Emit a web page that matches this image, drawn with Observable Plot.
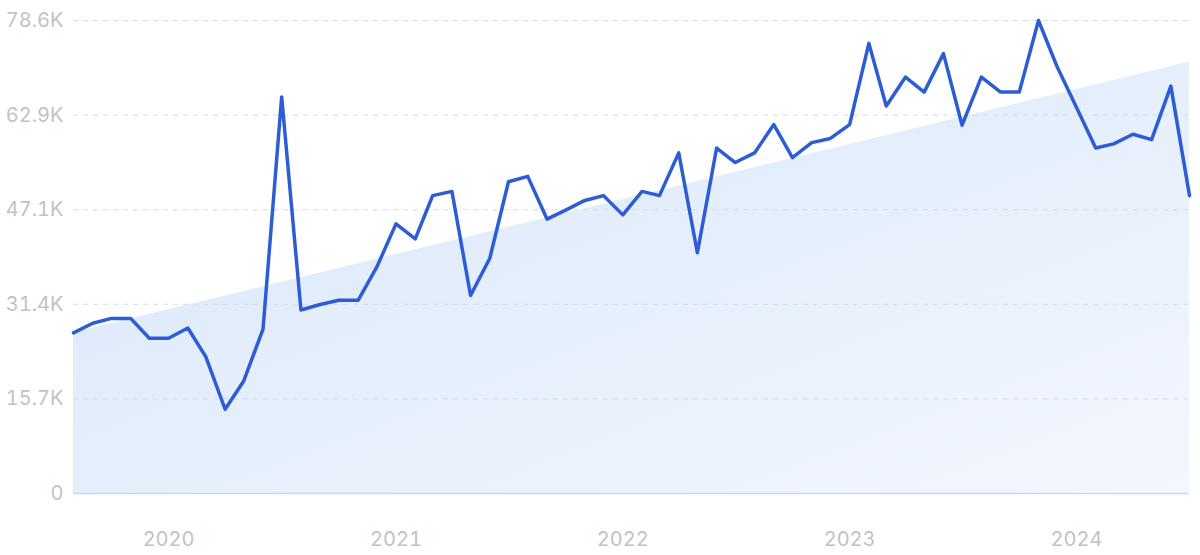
<!DOCTYPE html>
<html>
<head>
<meta charset="utf-8">
<script src="https://cdn.jsdelivr.net/npm/d3@7"></script>
<script src="https://cdn.jsdelivr.net/npm/@observablehq/plot@0.6"></script>
<style>
  html, body { margin: 0; padding: 0; background: #ffffff; }
  #chart { width: 1200px; height: 555px; }
</style>
</head>
<body>
<div id="chart"></div>
<script>
// Monthly series, Aug 2019 – Jul 2024 (values in thousands)
const startMonth = "2019-08-01";
const endMonth = "2024-07-01";
const values = [
  26.7, 28.3, 29.1, 29.1, 25.8, 25.8, 27.5, 22.7, 14.0, 18.7,
  27.3, 65.9, 30.5, 31.4, 32.1, 32.1, 37.6, 44.8, 42.3, 49.5,
  50.2, 32.9, 39.1, 51.8, 52.7, 45.6, 47.1, 48.7, 49.5, 46.3,
  50.2, 49.5, 56.6, 40.0, 57.4, 55.0, 56.6, 61.3, 55.8, 58.3,
  59.0, 61.3, 74.8, 64.4, 69.2, 66.7, 73.1, 61.2, 69.2, 66.7,
  66.7, 78.6, 70.9, 64.2, 57.4, 58.1, 59.7, 58.8, 67.7, 49.5
];
// Trend (start and end values, thousands)
const trendValues = [26.7, 71.7];
// Tick labels
const yTicks = [0, 15.72, 31.44, 47.16, 62.88, 78.6];
const yTickLabels = ["0", "15.7K", "31.4K", "47.1K", "62.9K", "78.6K"];
const xTickYears = [2020, 2021, 2022, 2023, 2024];

const months = d3.utcMonth.range(new Date(startMonth), d3.utcMonth.offset(new Date(endMonth), 1));
const series = months.map((d, i) => ({date: d, value: values[i]}));
const trend = [
  {date: months[0], value: trendValues[0]},
  {date: months[months.length - 1], value: trendValues[1]}
];
const xTicks = xTickYears.map(y => new Date(Date.UTC(y, 0, 1)));

const plot = Plot.plot({
  width: 1200,
  height: 555,
  marginLeft: 73,
  marginRight: 11,
  marginTop: 20,
  marginBottom: 62,
  style: {fontFamily: "Inter, 'Noto Sans', sans-serif", fontSize: "20px", background: "#ffffff", color: "#c1c2c9"},
  x: {type: "utc", domain: [months[0], months[months.length - 1]]},
  y: {domain: [0, 78.6]},
  marks: [
    Plot.areaY(trend, {x: "date", y: "value", fill: "url(#trendGrad)"}),
    Plot.gridY(yTicks.slice(1), {stroke: "#d3dceb", strokeOpacity: 1, strokeDasharray: "5,5", strokeWidth: 1}),
    Plot.ruleY([0], {stroke: "#c8d9f2", strokeWidth: 1.5}),
    Plot.axisY({ticks: yTicks, tickFormat: (d) => yTickLabels[yTicks.indexOf(d)], tickSize: 0, tickPadding: 10, label: null, fill: "#c1c2c9"}),
    Plot.axisX({ticks: xTicks, tickFormat: d3.utcFormat("%Y"), tickSize: 0, tickPadding: 38, label: null, fill: "#c1c2c9"}),
    Plot.lineY(series, {x: "date", y: "value", stroke: "#2d5dd5", strokeWidth: 3.5, strokeLinejoin: "round", strokeLinecap: "round"})
  ]
});

// gradient definition for the trend area
const ns = "http://www.w3.org/2000/svg";
const defs = document.createElementNS(ns, "defs");
const grad = document.createElementNS(ns, "linearGradient");
grad.setAttribute("id", "trendGrad");
grad.setAttribute("x1", "0"); grad.setAttribute("y1", "0");
grad.setAttribute("x2", "1"); grad.setAttribute("y2", "1");
[["0%", "#d8e6fa"], ["100%", "#f3f7fe"]].forEach(([o, c]) => {
  const s = document.createElementNS(ns, "stop");
  s.setAttribute("offset", o);
  s.setAttribute("stop-color", c);
  grad.appendChild(s);
});
defs.appendChild(grad);
plot.insertBefore(defs, plot.firstChild);

document.getElementById("chart").appendChild(plot);
</script>
</body>
</html>
